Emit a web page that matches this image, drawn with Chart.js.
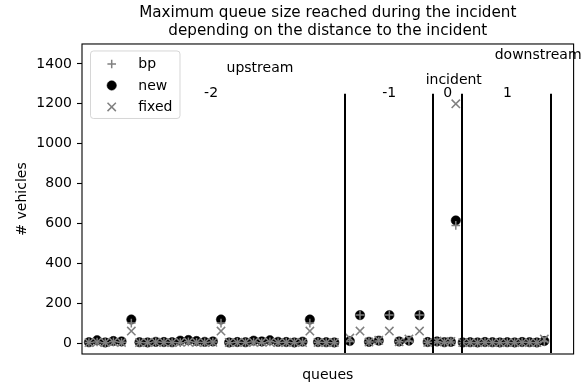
<!DOCTYPE html>
<html>
<head>
<meta charset="utf-8">
<script src="https://cdn.jsdelivr.net/npm/chart.js@4/dist/chart.umd.min.js"></script>
<style>
  html, body { margin: 0; padding: 0; background: #ffffff; }
  #wrap { width: 581px; height: 390px; }
</style>
</head>
<body>
<div id="wrap"><canvas id="c" width="581" height="390"></canvas></div>
<script>
// Queue positions along the road (one slot per upstream queue), left to right
const queueX = [
  0, 1, 2, 3, 4, 5.2, 6.2, 7.2, 8.2, 9.2, 10.2, 11.2, 12.2, 13.2, 14.2, 15.2, 16.2, 17.2, 18.2, 19.2,
  20.2, 21.2, 22.2, 23.2, 24.2, 25.2, 26.2, 27.1, 28.1, 29.1, 30.1,
  32.0, 33.25, 34.35, 35.55, 36.85, 38.05, 39.25, 40.55, 41.55,
  42.7, 43.6, 44.4, 45.0,
  45.85, 46.76, 47.67, 48.58, 49.49, 50.4, 51.31, 52.22, 53.13, 54.04, 54.95, 55.86
];

// Maximum queue size (# vehicles) per controller
const bpVals = [
  3, 5, 2, 6, 4, 100, 3, 2, 5, 4, 3, 2, 6, 4, 3, 5, 100, 2, 4, 3,
  5, 2, 6, 3, 4, 2, 5, 100, 4, 3, 2,
  8, 140, 5, 10, 140, 6, 9, 140, 4,
  6, 3, 5, 590,
  2, 3, 2, 4, 3, 2, 3, 2, 4, 3, 2, 8
];
const newVals = [
  4, 14, 3, 10, 8, 118, 4, 3, 6, 5, 4, 12, 15, 10, 6, 8, 118, 3, 5, 4,
  12, 8, 14, 6, 5, 3, 7, 118, 5, 4, 3,
  10, 140, 6, 12, 140, 8, 12, 140, 5,
  8, 4, 6, 615,
  3, 4, 3, 5, 4, 3, 4, 3, 5, 4, 3, 10
];
const fixedVals = [
  2, 4, 3, 5, 3, 60, 2, 3, 4, 3, 2, 4, 5, 3, 2, 4, 60, 3, 2, 4,
  3, 5, 4, 2, 3, 4, 2, 60, 3, 2, 3,
  25, 60, 5, 14, 60, 6, 20, 60, 3,
  10, 5, 8, 1200,
  2, 3, 2, 3, 2, 3, 2, 3, 2, 3, 2, 20
];

// Borders between distance groups and the y tick values
const sectionBounds = [31.47, 42.2, 45.74, 56.65];
const yTicks = [0, 200, 400, 600, 800, 1000, 1200, 1400];

// Group labels placed in data coordinates
const sectionNotes = [
  { text: '-2', x: 14.98, y: 1254 },
  { text: 'upstream', x: 20.98, y: 1380 },
  { text: '-1', x: 36.83, y: 1254 },
  { text: '0', x: 44.02, y: 1254 },
  { text: '1', x: 51.35, y: 1254 },
  { text: 'incident', x: 44.75, y: 1318 },
  { text: 'downstream', x: 55.1, y: 1445 }
];

const FONT = '"DejaVu Sans", Verdana, sans-serif';
const GREY = '#808080';

const toPoints = vals => vals.map((v, i) => ({ x: queueX[i], y: v }));

const datasets = [
  { label: 'bp', data: toPoints(bpVals), pointStyle: 'cross', radius: 4.3,
    borderColor: GREY, backgroundColor: GREY, borderWidth: 1.5, order: 1 },
  { label: 'new', data: toPoints(newVals), pointStyle: 'circle', radius: 4.7,
    borderColor: '#000000', backgroundColor: '#000000', borderWidth: 0.5, order: 2 },
  { label: 'fixed', data: toPoints(fixedVals), pointStyle: 'crossRot', radius: 5.9,
    borderColor: GREY, backgroundColor: GREY, borderWidth: 1.5, order: 0 }
];

// Vertical separators, the axes frame and group labels
const decorations = {
  id: 'decorations',
  afterDatasetsDraw(chart) {
    const { ctx, chartArea: a, scales: { x, y } } = chart;
    ctx.save();
    ctx.strokeStyle = '#000000';
    ctx.lineWidth = 2;
    sectionBounds.forEach(b => {
      const px = Math.round(x.getPixelForValue(b));
      ctx.beginPath();
      ctx.moveTo(px, y.getPixelForValue(-50));
      ctx.lineTo(px, y.getPixelForValue(1250));
      ctx.stroke();
    });
    ctx.lineWidth = 1.1;
    ctx.strokeRect(a.left, a.top, a.right - a.left, a.bottom - a.top);
    ctx.fillStyle = '#000000';
    ctx.font = '14px ' + FONT;
    ctx.textAlign = 'center';
    ctx.textBaseline = 'middle';
    sectionNotes.forEach(n => ctx.fillText(n.text, x.getPixelForValue(n.x), y.getPixelForValue(n.y)));
    ctx.restore();
  }
};

// Framed legend in the upper-left corner of the plot
const boxLegend = {
  id: 'boxLegend',
  afterDraw(chart) {
    const { ctx, chartArea: a } = chart;
    const x0 = a.left + 8.5, y0 = a.top + 7, w = 89.5, h = 67.5, r = 3;
    ctx.save();
    ctx.beginPath();
    ctx.moveTo(x0 + r, y0);
    ctx.arcTo(x0 + w, y0, x0 + w, y0 + h, r);
    ctx.arcTo(x0 + w, y0 + h, x0, y0 + h, r);
    ctx.arcTo(x0, y0 + h, x0, y0, r);
    ctx.arcTo(x0, y0, x0 + w, y0, r);
    ctx.closePath();
    ctx.fillStyle = 'rgba(255,255,255,0.8)';
    ctx.fill();
    ctx.strokeStyle = 'rgba(204,204,204,0.8)';
    ctx.lineWidth = 1;
    ctx.stroke();
    ctx.font = '14px ' + FONT;
    ctx.textAlign = 'left';
    ctx.textBaseline = 'middle';
    chart.data.datasets.forEach((ds, i) => {
      const cy = y0 + 13 + i * 21.5;
      ctx.strokeStyle = ds.borderColor;
      ctx.fillStyle = ds.backgroundColor;
      ctx.lineWidth = ds.borderWidth;
      Chart.helpers.drawPoint(ctx, { pointStyle: ds.pointStyle, radius: ds.radius, borderWidth: ds.borderWidth, rotation: 0 },
        a.left + 29.7, cy);
      ctx.fillStyle = '#000000';
      ctx.fillText(ds.label, a.left + 56.3, cy + 0.5);
    });
    ctx.restore();
  }
};

new Chart(document.getElementById('c'), {
  type: 'scatter',
  data: { datasets },
  options: {
    responsive: false,
    animation: false,
    devicePixelRatio: 1,
    events: [],
    layout: { padding: { left: 0, right: 4.5, top: 0, bottom: 0 } },
    plugins: {
      legend: { display: false },
      tooltip: { enabled: false },
      title: {
        display: true,
        fullSize: false,
        text: ['Maximum queue size reached during the incident', 'depending on the distance to the incident'],
        color: '#000000',
        font: { family: FONT, size: 15.2, weight: 'normal', lineHeight: 1.2 },
        padding: { top: 3.5, bottom: 4 }
      }
    },
    scales: {
      x: {
        type: 'linear',
        min: -0.85,
        max: 59.45,
        border: { display: false },
        grid: { display: false },
        ticks: { display: false },
        title: { display: true, text: 'queues', color: '#000000',
          font: { family: FONT, size: 14 }, padding: { top: 0, bottom: 6 } },
        afterFit(scale) { scale.height = 36; }
      },
      y: {
        type: 'linear',
        min: -55,
        max: 1500,
        border: { display: false },
        grid: { drawOnChartArea: false, drawTicks: true, tickLength: 5, color: '#000000', tickWidth: 1.1 },
        ticks: { color: '#000000', font: { family: FONT, size: 14 }, padding: 5,
          callback: v => String(v) },
        title: { display: true, text: '# vehicles', color: '#000000',
          font: { family: FONT, size: 14 }, padding: { top: 13.6, bottom: 0 } },
        afterBuildTicks(scale) { scale.ticks = yTicks.map(v => ({ value: v })); },
        afterFit(scale) { scale.width = 82; }
      }
    }
  },
  plugins: [decorations, boxLegend]
});
</script>
</body>
</html>
